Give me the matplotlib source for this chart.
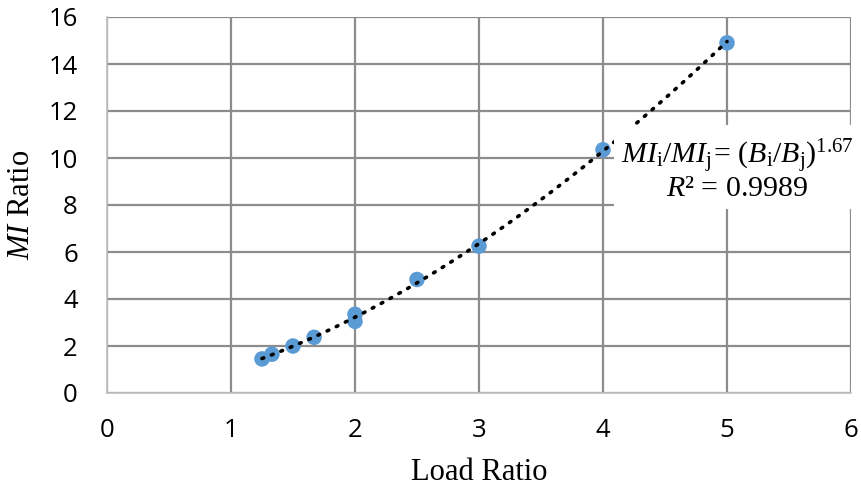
import numpy as np
import matplotlib
matplotlib.use('Agg')
import matplotlib.pyplot as plt

# measured load ratio vs MI ratio
load_ratio = [1.25, 1.33, 1.5, 1.67, 2.0, 2.0, 2.5, 3.0, 4.0, 5.0]
mi_ratio = [1.45, 1.65, 2.0, 2.37, 3.05, 3.35, 4.83, 6.25, 10.35, 14.9]
x_ticks = [0, 1, 2, 3, 4, 5, 6]
y_ticks = [0, 2, 4, 6, 8, 10, 12, 14, 16]

plt.rcParams['mathtext.fontset'] = 'custom'
plt.rcParams['mathtext.rm'] = 'Liberation Serif'
plt.rcParams['mathtext.it'] = 'Liberation Serif:italic'

fig = plt.figure(figsize=(8.61, 4.91), dpi=100)
ax = fig.add_axes([107/861, 1-393/491, (851-107)/861, (393-17)/491])

# power trendline fitted in log space
x = np.array(load_ratio)
y = np.array(mi_ratio)
b, loga = np.polyfit(np.log(x), np.log(y), 1)
xs = np.linspace(x.min(), x.max(), 200)
ax.plot(xs, np.exp(loga) * xs**b, color='black', linestyle=(0, (0.5, 2.3)),
        linewidth=2.6, dash_capstyle='round', zorder=4)
ax.scatter(load_ratio, mi_ratio, s=125, color='#5b9bd5', zorder=3, edgecolors='none')

ax.set_xlim(0, 6)
ax.set_ylim(0, 16)
ax.set_xticks(x_ticks)
ax.set_yticks(y_ticks)
ax.grid(True, color='#8c8c8c', linewidth=1.6)
ax.set_axisbelow(True)
for s in ['top', 'right']:
    ax.spines[s].set_visible(False)
for s in ['left', 'bottom']:
    ax.spines[s].set_color('#bfbfbf')
    ax.spines[s].set_linewidth(1.2)
ax.tick_params(axis='y', length=0, labelsize=18.5, pad=21)
ax.tick_params(axis='x', length=0, labelsize=18.5, pad=18)
for lab in ax.get_xticklabels() + ax.get_yticklabels():
    lab.set_family('Open Sans')

ax.set_xlabel('Load Ratio', family='Liberation Serif', fontsize=22, labelpad=11)
ax.set_ylabel(r'$MI$ Ratio', family='Liberation Serif', fontsize=22, labelpad=9)

ax.text(5.08, 9.5, r'$MI_{\mathrm{i}}/MI_{\mathrm{j}}\!=\,(B_{\mathrm{i}}/B_{\mathrm{j}})^{1.67}$' + '\n' + r'$R$² = 0.9989',
        ha='center', va='center', fontsize=21.5, family='Liberation Serif', linespacing=1.0,
        bbox=dict(facecolor='white', edgecolor='none', pad=5), zorder=5, clip_on=False)

plt.savefig('out.png')
plt.close()
